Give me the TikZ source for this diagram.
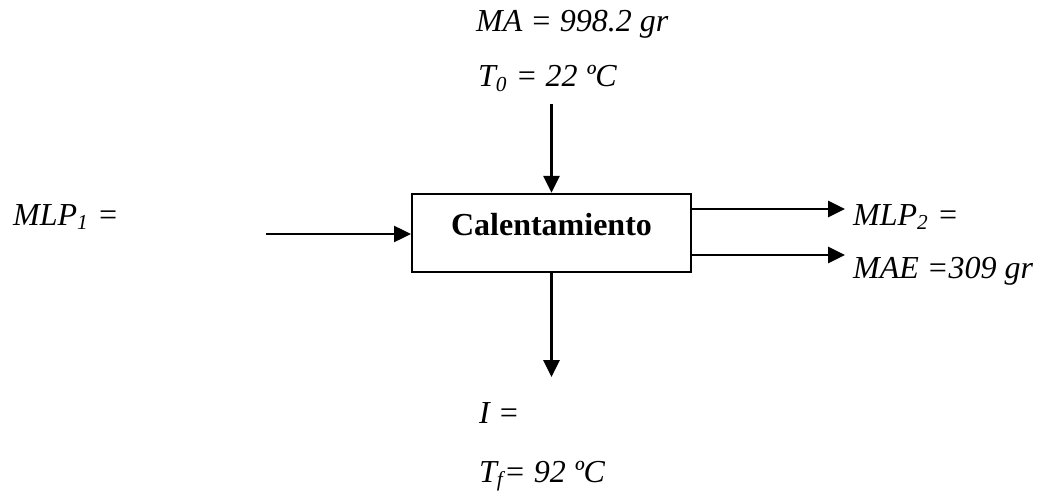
\documentclass[tikz,border=0pt]{standalone}
\usepackage{fontspec}
\setmainfont{Liberation Serif}
\usetikzlibrary{arrows.meta}

\begin{document}
\begin{tikzpicture}[
  x=0.375pt, y=-0.375pt,
  every node/.style={font=\fontsize{12}{14}\selectfont\itshape,
                     inner sep=0pt, anchor=base west},
  procbox/.style={draw, anchor=center, font=\fontsize{12}{14}\selectfont\bfseries,
                  minimum width=104.6pt, text height=15.4pt, text depth=13.9pt},
  line width=0.85pt,
  >={Triangle[length=6.3pt,width=6pt]}
]
\useasboundingbox (0,0) rectangle (1039,492);
\node[procbox] (calent) at (551.5,233) {Calentamiento};
\node (ma)   at (475,32)  {MA = 998.2 gr};
\node (tini) at (477,87)  {T\textsubscript{0} = 22 ºC};
\node (mlpa) at (12,225)  {MLP\textsubscript{1} =};
\node (mlpb) at (852,225) {MLP\textsubscript{2} =};
\node (mae)  at (852,278) {MAE =309 gr};
\node (itxt) at (478,423) {I =};
\node (tfin) at (478,482) {T\textsubscript{f}= 92 ºC};
\coordinate (inS)  at (266,234);
\coordinate (topS) at (551.5,104);
\coordinate (outA) at (845,209);
\coordinate (outB) at (845,255);
\coordinate (botE) at (551.5,377);
\draw[->] (inS)  -- (calent.west |- inS);
\draw[->] (topS) -- (calent.north);
\draw[->] (calent.east |- outA) -- (outA);
\draw[->] (calent.east |- outB) -- (outB);
\draw[->] (calent.south) -- (botE);
\end{tikzpicture}
\end{document}
